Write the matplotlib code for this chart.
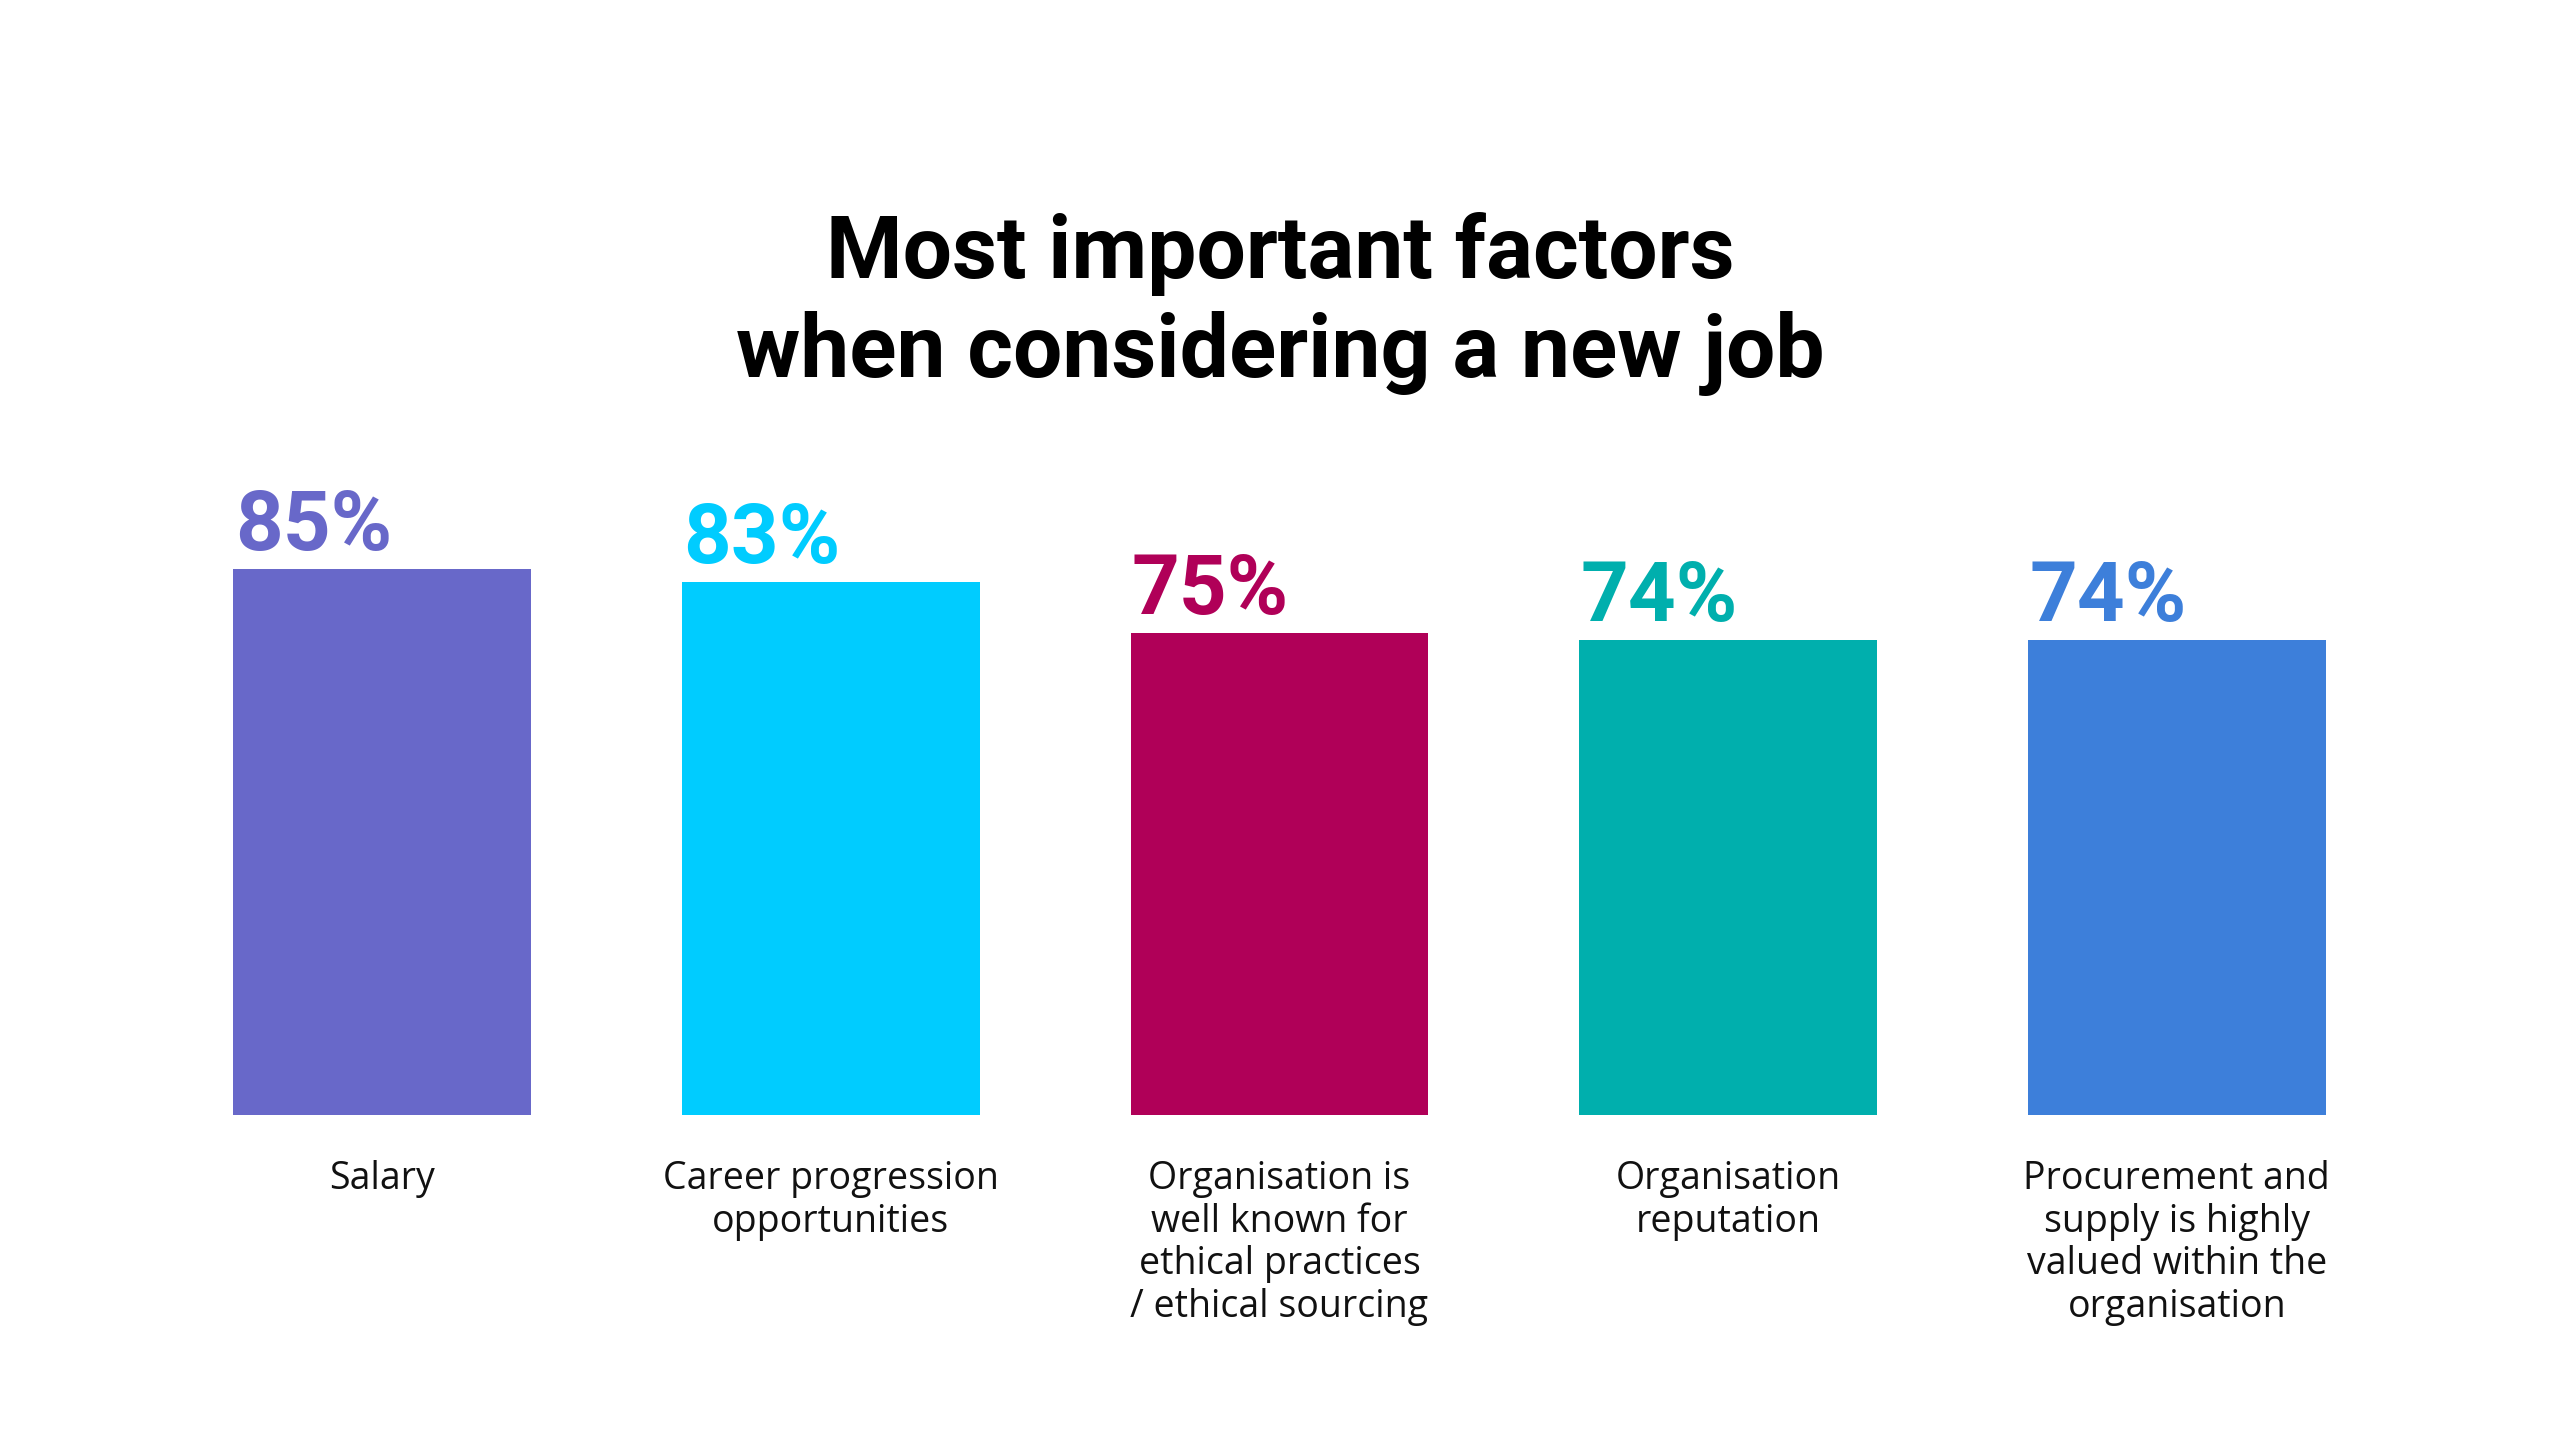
import matplotlib
matplotlib.use('Agg')
import matplotlib.pyplot as plt
from matplotlib import transforms

categories = ["Salary",
              "Career progression\nopportunities",
              "Organisation is\nwell known for\nethical practices\n/ ethical sourcing",
              "Organisation\nreputation",
              "Procurement and\nsupply is highly\nvalued within the\norganisation"]
values = [85, 83, 75, 74, 74]
value_labels = ["85%", "83%", "75%", "74%", "74%"]
colors = ["#6868C9", "#00CCFF", "#B00058", "#00AFAD", "#3D7FDA"]
title = "Most important factors\nwhen considering a new job"

W, H = 2560, 1440
fig = plt.figure(figsize=(25.6, 14.4), dpi=100)
fig.patch.set_facecolor('white')
ax = fig.add_axes([158 / W, (H - 1115) / H, (2401 - 158) / W, 642 / H])
x = list(range(len(values)))
bars = ax.bar(x, values, width=0.664, color=colors)
ax.set_xlim(-0.5, 4.5)
ax.set_ylim(0, 100)
ax.axis('off')

for b, lab, c in zip(bars, value_labels, colors):
    ax.annotate(lab, xy=(b.get_x(), b.get_height()), xytext=(1, 13.7),
                textcoords='offset points', ha='left', va='baseline',
                fontsize=60, fontweight='bold', color=c, family='Roboto')

trans = transforms.blended_transform_factory(ax.transData, fig.transFigure)
for i, cat in enumerate(categories):
    ax.text(i, (H - 1160) / H, cat, transform=trans, ha='center', va='top',
            fontsize=27, family='Open Sans', linespacing=1.16,
            multialignment='center', color='#111111')

fig.text(0.5, (H - 212) / H, title, ha='center', va='top', fontsize=63,
         fontweight='bold', family='Roboto', linespacing=1.23, color='black')

fig.savefig('out.png', dpi=100, facecolor='white')
